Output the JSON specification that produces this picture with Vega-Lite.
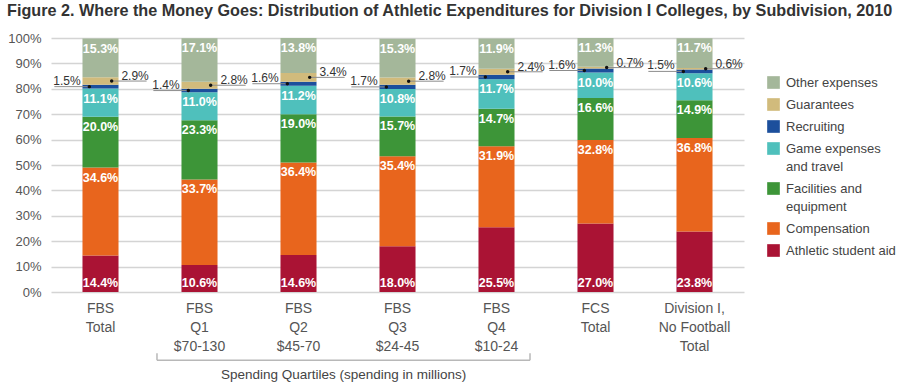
{
  "$schema": "https://vega.github.io/schema/vega-lite/v6.json",
  "width": 693,
  "height": 254,
  "autosize": {"type": "none"},
  "padding": {"left": 51, "top": 38, "right": 156, "bottom": 93},
  "background": "white",
  "config": {"font": "Liberation Sans", "view": {"stroke": null},
    "axisY": {"tickCount": 10, "labelOverlap": false, "format": ".0%", "domain": false, "ticks": false, "labelPadding": 10, "labelFontSize": 13, "labelColor": "#555555", "gridColor": "#d4d4d4", "gridWidth": 1.5}},
  "title": {
    "text": "Figure 2. Where the Money Goes: Distribution of Athletic Expenditures for Division I Colleges, by Subdivision, 2010",
    "anchor": "start", "frame": "group", "dx": -44, "fontSize": 16.2, "fontWeight": "bold",
    "color": "#333333", "baseline": "alphabetic", "offset": 0
  },
  "datasets": {
    "main": [
      {"cat": "FBS|Total", "type": "Athletic student aid", "order": 1, "value": 0.144},
      {"cat": "FBS|Total", "type": "Compensation", "order": 2, "value": 0.346},
      {"cat": "FBS|Total", "type": "Facilities and equipment", "order": 3, "value": 0.200},
      {"cat": "FBS|Total", "type": "Game expenses and travel", "order": 4, "value": 0.111},
      {"cat": "FBS|Total", "type": "Recruiting", "order": 5, "value": 0.015},
      {"cat": "FBS|Total", "type": "Guarantees", "order": 6, "value": 0.029},
      {"cat": "FBS|Total", "type": "Other expenses", "order": 7, "value": 0.153},
      {"cat": "FBS|Q1|$70-130", "type": "Athletic student aid", "order": 1, "value": 0.106},
      {"cat": "FBS|Q1|$70-130", "type": "Compensation", "order": 2, "value": 0.337},
      {"cat": "FBS|Q1|$70-130", "type": "Facilities and equipment", "order": 3, "value": 0.233},
      {"cat": "FBS|Q1|$70-130", "type": "Game expenses and travel", "order": 4, "value": 0.110},
      {"cat": "FBS|Q1|$70-130", "type": "Recruiting", "order": 5, "value": 0.014},
      {"cat": "FBS|Q1|$70-130", "type": "Guarantees", "order": 6, "value": 0.028},
      {"cat": "FBS|Q1|$70-130", "type": "Other expenses", "order": 7, "value": 0.171},
      {"cat": "FBS|Q2|$45-70", "type": "Athletic student aid", "order": 1, "value": 0.146},
      {"cat": "FBS|Q2|$45-70", "type": "Compensation", "order": 2, "value": 0.364},
      {"cat": "FBS|Q2|$45-70", "type": "Facilities and equipment", "order": 3, "value": 0.190},
      {"cat": "FBS|Q2|$45-70", "type": "Game expenses and travel", "order": 4, "value": 0.112},
      {"cat": "FBS|Q2|$45-70", "type": "Recruiting", "order": 5, "value": 0.016},
      {"cat": "FBS|Q2|$45-70", "type": "Guarantees", "order": 6, "value": 0.034},
      {"cat": "FBS|Q2|$45-70", "type": "Other expenses", "order": 7, "value": 0.138},
      {"cat": "FBS|Q3|$24-45", "type": "Athletic student aid", "order": 1, "value": 0.180},
      {"cat": "FBS|Q3|$24-45", "type": "Compensation", "order": 2, "value": 0.354},
      {"cat": "FBS|Q3|$24-45", "type": "Facilities and equipment", "order": 3, "value": 0.157},
      {"cat": "FBS|Q3|$24-45", "type": "Game expenses and travel", "order": 4, "value": 0.108},
      {"cat": "FBS|Q3|$24-45", "type": "Recruiting", "order": 5, "value": 0.017},
      {"cat": "FBS|Q3|$24-45", "type": "Guarantees", "order": 6, "value": 0.028},
      {"cat": "FBS|Q3|$24-45", "type": "Other expenses", "order": 7, "value": 0.153},
      {"cat": "FBS|Q4|$10-24", "type": "Athletic student aid", "order": 1, "value": 0.255},
      {"cat": "FBS|Q4|$10-24", "type": "Compensation", "order": 2, "value": 0.319},
      {"cat": "FBS|Q4|$10-24", "type": "Facilities and equipment", "order": 3, "value": 0.147},
      {"cat": "FBS|Q4|$10-24", "type": "Game expenses and travel", "order": 4, "value": 0.117},
      {"cat": "FBS|Q4|$10-24", "type": "Recruiting", "order": 5, "value": 0.017},
      {"cat": "FBS|Q4|$10-24", "type": "Guarantees", "order": 6, "value": 0.024},
      {"cat": "FBS|Q4|$10-24", "type": "Other expenses", "order": 7, "value": 0.119},
      {"cat": "FCS|Total", "type": "Athletic student aid", "order": 1, "value": 0.270},
      {"cat": "FCS|Total", "type": "Compensation", "order": 2, "value": 0.328},
      {"cat": "FCS|Total", "type": "Facilities and equipment", "order": 3, "value": 0.166},
      {"cat": "FCS|Total", "type": "Game expenses and travel", "order": 4, "value": 0.100},
      {"cat": "FCS|Total", "type": "Recruiting", "order": 5, "value": 0.016},
      {"cat": "FCS|Total", "type": "Guarantees", "order": 6, "value": 0.007},
      {"cat": "FCS|Total", "type": "Other expenses", "order": 7, "value": 0.113},
      {"cat": "Division I,|No Football|Total", "type": "Athletic student aid", "order": 1, "value": 0.238},
      {"cat": "Division I,|No Football|Total", "type": "Compensation", "order": 2, "value": 0.368},
      {"cat": "Division I,|No Football|Total", "type": "Facilities and equipment", "order": 3, "value": 0.149},
      {"cat": "Division I,|No Football|Total", "type": "Game expenses and travel", "order": 4, "value": 0.106},
      {"cat": "Division I,|No Football|Total", "type": "Recruiting", "order": 5, "value": 0.015},
      {"cat": "Division I,|No Football|Total", "type": "Guarantees", "order": 6, "value": 0.006},
      {"cat": "Division I,|No Football|Total", "type": "Other expenses", "order": 7, "value": 0.117}
    ],
    "bracket": [
      {"from": "FBS|Q1|$70-130", "to": "FBS|Q4|$10-24", "label": "Spending Quartiles (spending in millions)"}
    ]
  },
  "layer": [
    {
      "data": {"name": "main"},
      "transform": [
        {"stack": "value", "groupby": ["cat"], "sort": [{"field": "order", "order": "ascending"}], "as": ["y0", "y1"]},
        {"calculate": "(datum.y0 + datum.y1) / 2", "as": "mid"}
      ],
      "layer": [
        {
          "mark": {"type": "bar"},
          "encoding": {
            "x": {"field": "cat", "type": "nominal", "title": null,
              "scale": {"domain": ["FBS|Total", "FBS|Q1|$70-130", "FBS|Q2|$45-70", "FBS|Q3|$24-45", "FBS|Q4|$10-24", "FCS|Total", "Division I,|No Football|Total"], "paddingInner": 0.636, "paddingOuter": 0.318},
              "axis": {"title": null, "labelExpr": "split(datum.label, '|')", "labelFontSize": 14, "labelColor": "#555555", "labelLineHeight": 19, "labelPadding": 9, "labelBaseline": "top", "ticks": false, "domain": false, "labelAngle": 0, "labelOverlap": false}},
            "y": {"field": "y0", "type": "quantitative", "title": null, "scale": {"domain": [0, 1], "nice": false},
              "axis": {"title": null, "tickCount": 10, "format": ".0%", "labelOverlap": false}},
            "y2": {"field": "y1"},
            "color": {"field": "type", "type": "nominal",
              "scale": {"domain": ["Other expenses", "Guarantees", "Recruiting", "Game expenses and travel", "Facilities and equipment", "Compensation", "Athletic student aid"],
                        "range": ["#a4b79a", "#d1bb7c", "#1c4f9c", "#4fc0bc", "#3d9538", "#e8651d", "#aa1334"]},
              "legend": {"orient": "none", "legendX": 716, "legendY": 38, "title": null, "symbolType": "square", "symbolSize": 160, "symbolStrokeWidth": 0, "labelFontSize": 13, "labelColor": "#444444", "labelOffset": 6, "rowPadding": 8, "padding": 0, "labelBaseline": "alphabetic",
                "labelExpr": "datum.label == 'Game expenses and travel' ? ['Game expenses', 'and travel'] : datum.label == 'Facilities and equipment' ? ['Facilities and', 'equipment'] : datum.label",
                "encode": {"labels": {"update": {"lineHeight": {"value": 18}, "dy": {"value": 4}}}}}}
          }
        },
        {
          "transform": [{"filter": "datum.order == 1"}],
          "mark": {"type": "text", "color": "white", "fontWeight": "bold", "fontSize": 12.5, "baseline": "bottom", "dy": -2},
          "encoding": {
            "x": {"field": "cat", "type": "nominal", "title": null, "scale": {"domain": ["FBS|Total", "FBS|Q1|$70-130", "FBS|Q2|$45-70", "FBS|Q3|$24-45", "FBS|Q4|$10-24", "FCS|Total", "Division I,|No Football|Total"], "paddingInner": 0.636, "paddingOuter": 0.318}},
            "y": {"field": "y0", "type": "quantitative", "title": null, "scale": {"domain": [0, 1], "nice": false}},
            "text": {"field": "value", "type": "quantitative", "format": ".1%"}
          }
        },
        {
          "transform": [{"filter": "datum.order == 2 || datum.order == 3 || datum.order == 4 || datum.order == 7"}],
          "mark": {"type": "text", "color": "white", "fontWeight": "bold", "fontSize": 12.5, "baseline": "top", "dy": 4},
          "encoding": {
            "x": {"field": "cat", "type": "nominal", "title": null, "scale": {"domain": ["FBS|Total", "FBS|Q1|$70-130", "FBS|Q2|$45-70", "FBS|Q3|$24-45", "FBS|Q4|$10-24", "FCS|Total", "Division I,|No Football|Total"], "paddingInner": 0.636, "paddingOuter": 0.318}},
            "y": {"field": "y1", "type": "quantitative", "title": null, "scale": {"domain": [0, 1], "nice": false}},
            "text": {"field": "value", "type": "quantitative", "format": ".1%"}
          }
        },
        {
          "transform": [{"filter": "datum.order == 5"}],
          "layer": [
            {
              "mark": {"type": "rule", "color": "#8c8c8c", "strokeWidth": 1},
              "encoding": {
                "x": {"field": "cat", "type": "nominal", "title": null, "bandPosition": -0.78, "scale": {"domain": ["FBS|Total", "FBS|Q1|$70-130", "FBS|Q2|$45-70", "FBS|Q3|$24-45", "FBS|Q4|$10-24", "FCS|Total", "Division I,|No Football|Total"], "paddingInner": 0.636, "paddingOuter": 0.318}},
                "x2": {"field": "cat", "bandPosition": 0.19},
                "y": {"field": "mid", "type": "quantitative", "title": null, "scale": {"domain": [0, 1], "nice": false}}
              }
            },
            {
              "mark": {"type": "circle", "color": "#111111", "size": 12, "opacity": 1},
              "encoding": {
                "x": {"field": "cat", "type": "nominal", "title": null, "bandPosition": 0.19, "scale": {"domain": ["FBS|Total", "FBS|Q1|$70-130", "FBS|Q2|$45-70", "FBS|Q3|$24-45", "FBS|Q4|$10-24", "FCS|Total", "Division I,|No Football|Total"], "paddingInner": 0.636, "paddingOuter": 0.318}},
                "y": {"field": "mid", "type": "quantitative", "title": null, "scale": {"domain": [0, 1], "nice": false}}
              }
            },
            {
              "mark": {"type": "text", "color": "#333333", "fontSize": 12, "align": "right", "baseline": "alphabetic", "dy": -2},
              "encoding": {
                "x": {"field": "cat", "type": "nominal", "title": null, "bandPosition": -0.05, "scale": {"domain": ["FBS|Total", "FBS|Q1|$70-130", "FBS|Q2|$45-70", "FBS|Q3|$24-45", "FBS|Q4|$10-24", "FCS|Total", "Division I,|No Football|Total"], "paddingInner": 0.636, "paddingOuter": 0.318}},
                "y": {"field": "mid", "type": "quantitative", "title": null, "scale": {"domain": [0, 1], "nice": false}},
                "text": {"field": "value", "type": "quantitative", "format": ".1%"}
              }
            }
          ]
        },
        {
          "transform": [{"filter": "datum.order == 6"}],
          "layer": [
            {
              "mark": {"type": "rule", "color": "#8c8c8c", "strokeWidth": 1},
              "encoding": {
                "x": {"field": "cat", "type": "nominal", "title": null, "bandPosition": 0.81, "scale": {"domain": ["FBS|Total", "FBS|Q1|$70-130", "FBS|Q2|$45-70", "FBS|Q3|$24-45", "FBS|Q4|$10-24", "FCS|Total", "Division I,|No Football|Total"], "paddingInner": 0.636, "paddingOuter": 0.318}},
                "x2": {"field": "cat", "bandPosition": 1.78},
                "y": {"field": "mid", "type": "quantitative", "title": null, "scale": {"domain": [0, 1], "nice": false}}
              }
            },
            {
              "mark": {"type": "circle", "color": "#111111", "size": 12, "opacity": 1},
              "encoding": {
                "x": {"field": "cat", "type": "nominal", "title": null, "bandPosition": 0.81, "scale": {"domain": ["FBS|Total", "FBS|Q1|$70-130", "FBS|Q2|$45-70", "FBS|Q3|$24-45", "FBS|Q4|$10-24", "FCS|Total", "Division I,|No Football|Total"], "paddingInner": 0.636, "paddingOuter": 0.318}},
                "y": {"field": "mid", "type": "quantitative", "title": null, "scale": {"domain": [0, 1], "nice": false}}
              }
            },
            {
              "mark": {"type": "text", "color": "#333333", "fontSize": 12, "align": "left", "baseline": "alphabetic", "dy": -1},
              "encoding": {
                "x": {"field": "cat", "type": "nominal", "title": null, "bandPosition": 1.08, "scale": {"domain": ["FBS|Total", "FBS|Q1|$70-130", "FBS|Q2|$45-70", "FBS|Q3|$24-45", "FBS|Q4|$10-24", "FCS|Total", "Division I,|No Football|Total"], "paddingInner": 0.636, "paddingOuter": 0.318}},
                "y": {"field": "mid", "type": "quantitative", "title": null, "scale": {"domain": [0, 1], "nice": false}},
                "text": {"field": "value", "type": "quantitative", "format": ".1%"}
              }
            }
          ]
        }
      ]
    },
    {
      "data": {"name": "bracket"},
      "layer": [
        {
          "mark": {"type": "rule", "color": "#b8b8b8", "strokeWidth": 1.5},
          "encoding": {
            "x": {"field": "from", "type": "nominal", "title": null, "bandPosition": -0.68, "scale": {"domain": ["FBS|Total", "FBS|Q1|$70-130", "FBS|Q2|$45-70", "FBS|Q3|$24-45", "FBS|Q4|$10-24", "FCS|Total", "Division I,|No Football|Total"], "paddingInner": 0.636, "paddingOuter": 0.318}},
            "x2": {"field": "to", "bandPosition": 1.43},
            "y": {"datum": -0.269, "type": "quantitative", "title": null, "scale": {"domain": [0, 1], "nice": false}}
          }
        },
        {
          "mark": {"type": "rule", "color": "#b8b8b8", "strokeWidth": 1.5},
          "encoding": {
            "x": {"field": "from", "type": "nominal", "title": null, "bandPosition": -0.68, "scale": {"domain": ["FBS|Total", "FBS|Q1|$70-130", "FBS|Q2|$45-70", "FBS|Q3|$24-45", "FBS|Q4|$10-24", "FCS|Total", "Division I,|No Football|Total"], "paddingInner": 0.636, "paddingOuter": 0.318}},
            "y": {"datum": -0.269, "type": "quantitative", "title": null, "scale": {"domain": [0, 1], "nice": false}},
            "y2": {"datum": -0.241}
          }
        },
        {
          "mark": {"type": "rule", "color": "#b8b8b8", "strokeWidth": 1.5},
          "encoding": {
            "x": {"field": "to", "type": "nominal", "title": null, "bandPosition": 1.43, "scale": {"domain": ["FBS|Total", "FBS|Q1|$70-130", "FBS|Q2|$45-70", "FBS|Q3|$24-45", "FBS|Q4|$10-24", "FCS|Total", "Division I,|No Football|Total"], "paddingInner": 0.636, "paddingOuter": 0.318}},
            "y": {"datum": -0.269, "type": "quantitative", "title": null, "scale": {"domain": [0, 1], "nice": false}},
            "y2": {"datum": -0.241}
          }
        },
        {
          "mark": {"type": "text", "color": "#444444", "fontSize": 13.5, "baseline": "middle", "align": "center"},
          "encoding": {
            "x": {"field": "from", "type": "nominal", "title": null, "bandPosition": 4.5, "scale": {"domain": ["FBS|Total", "FBS|Q1|$70-130", "FBS|Q2|$45-70", "FBS|Q3|$24-45", "FBS|Q4|$10-24", "FCS|Total", "Division I,|No Football|Total"], "paddingInner": 0.636, "paddingOuter": 0.318}},
            "y": {"datum": -0.328, "type": "quantitative", "title": null, "scale": {"domain": [0, 1], "nice": false}},
            "text": {"field": "label"}
          }
        }
      ]
    }
  ]
}
